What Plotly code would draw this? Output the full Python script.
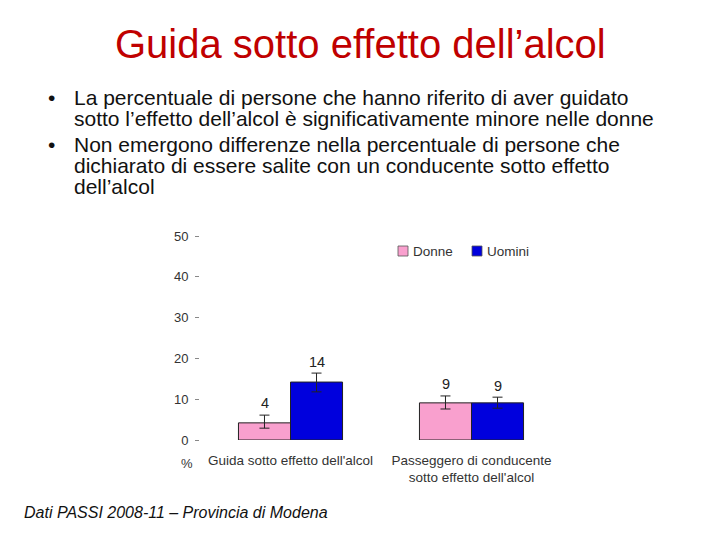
import plotly.graph_objects as go

categories = ["Guida sotto effetto dell'alcol", "Passeggero di conducente<br>sotto effetto dell'alcol"]
series_names = ["Donne", "Uomini"]
donne = [4.2, 9.1]
uomini = [14.2, 9.1]
donne_hi = [6.1, 10.8]
donne_lo = [2.9, 7.6]
uomini_hi = [16.4, 10.5]
uomini_lo = [11.8, 7.8]
labels_donne = ["4", "9"]
labels_uomini = ["14", "9"]
yticks = [0, 10, 20, 30, 40, 50]

FONT = "Liberation Sans, Arial, sans-serif"
PINK = "#F9A0CE"
BLUE = "#0000DD"
COLORS = [PINK, BLUE]

# Figure is drawn inside the page's default 8px body margin
W, H = 712, 532
L, R, T, B = 192, 158, 228, 100
PW, PH = W - L - R, H - T - B

def px(x, y):
    """page pixel -> paper coords"""
    return ((x - 8) - L) / PW, (H - B - (y - 8)) / PH

fig = go.Figure()
for name, vals, hi, lo, col in [
    (series_names[0], donne, donne_hi, donne_lo, PINK),
    (series_names[1], uomini, uomini_hi, uomini_lo, BLUE),
]:
    fig.add_trace(go.Bar(
        name=name, x=categories, y=vals, showlegend=False,
        marker=dict(color=col, line=dict(color="#222222", width=1)),
        error_y=dict(type="data", symmetric=False,
                     array=[h - v for h, v in zip(hi, vals)],
                     arrayminus=[v - l for v, l in zip(vals, lo)],
                     color="#222222", thickness=1, width=5),
    ))

annotations = []
for i, c in enumerate(categories):
    annotations.append(dict(x=c, y=donne_hi[i], xref="x", yref="y", text=labels_donne[i],
                            showarrow=False, xshift=-26, yshift=2, yanchor="bottom",
                            font=dict(family=FONT, size=14.5, color="#222")))
    annotations.append(dict(x=c, y=uomini_hi[i], xref="x", yref="y", text=labels_uomini[i],
                            showarrow=False, xshift=26, yshift=1, yanchor="bottom",
                            font=dict(family=FONT, size=14.5, color="#222")))

tx, ty = px(360, 44)
annotations.append(dict(x=tx, y=ty, xref="paper", yref="paper",
                        text="Guida sotto effetto dell\u2019alcol", showarrow=False,
                        xanchor="center", yanchor="middle",
                        font=dict(family=FONT, size=40, color="#C00000")))

bullets = [
    (97, "\u2022", 46), (97, "La percentuale di persone che hanno riferito di aver guidato", 72),
    (118, "sotto l\u2019effetto dell\u2019alcol è significativamente minore nelle donne", 72),
    (144.5, "\u2022", 46), (144.5, "Non emergono differenze nella percentuale di persone che", 72),
    (165.5, "dichiarato di essere salite con un conducente sotto effetto", 72),
    (186.5, "dell\u2019alcol", 72),
]
for y, t, x in bullets:
    bx, by = px(x, y)
    annotations.append(dict(x=bx, y=by, xref="paper", yref="paper", text=t, showarrow=False,
                            xanchor="left", yanchor="middle",
                            font=dict(family=FONT, size=21, color="#111")))

fx, fy = px(22, 512)
annotations.append(dict(x=fx, y=fy, xref="paper", yref="paper",
                        text="<i>Dati PASSI 2008-11 \u2013 Provincia di Modena</i>", showarrow=False,
                        xanchor="left", yanchor="middle",
                        font=dict(family=FONT, size=16, color="#111")))
pxx, pyy = px(187, 463)
annotations.append(dict(x=pxx, y=pyy, xref="paper", yref="paper", text="%", showarrow=False,
                        xanchor="center", yanchor="middle",
                        font=dict(family=FONT, size=13, color="#333")))

# custom legend
shapes = []
for name, col, sx in zip(series_names, COLORS, [398, 472]):
    x0, y0 = px(sx, 256)
    x1, y1 = px(sx + 10, 246)
    shapes.append(dict(type="rect", xref="paper", yref="paper", x0=x0, y0=y0, x1=x1, y1=y1,
                       fillcolor=col, line=dict(color="#555", width=0.8)))
    lx, ly = px(sx + 13, 251)
    annotations.append(dict(x=lx, y=ly, xref="paper", yref="paper", text=name, showarrow=False,
                            xanchor="left", yanchor="middle",
                            font=dict(family=FONT, size=13.5, color="#333")))

fig.update_layout(
    width=W, height=H,
    margin=dict(l=L, r=R, t=T, b=B),
    paper_bgcolor="white", plot_bgcolor="white",
    barmode="group", bargap=0.425, bargroupgap=0,
    showlegend=False,
    xaxis=dict(showline=False, showgrid=False, ticks="", range=[-0.5, 1.5],
               ticklabelstandoff=10,
               tickfont=dict(family=FONT, size=13.5, color="#333")),
    yaxis=dict(range=[0, 50], tickvals=yticks, showgrid=False, zeroline=False,
               showline=False, ticks="outside", ticklen=4, tickcolor="#888",
               ticklabelstandoff=4,
               tickfont=dict(family=FONT, size=13, color="#333")),
    font=dict(family=FONT),
    annotations=annotations, shapes=shapes,
)

fig.write_html("out.html")
